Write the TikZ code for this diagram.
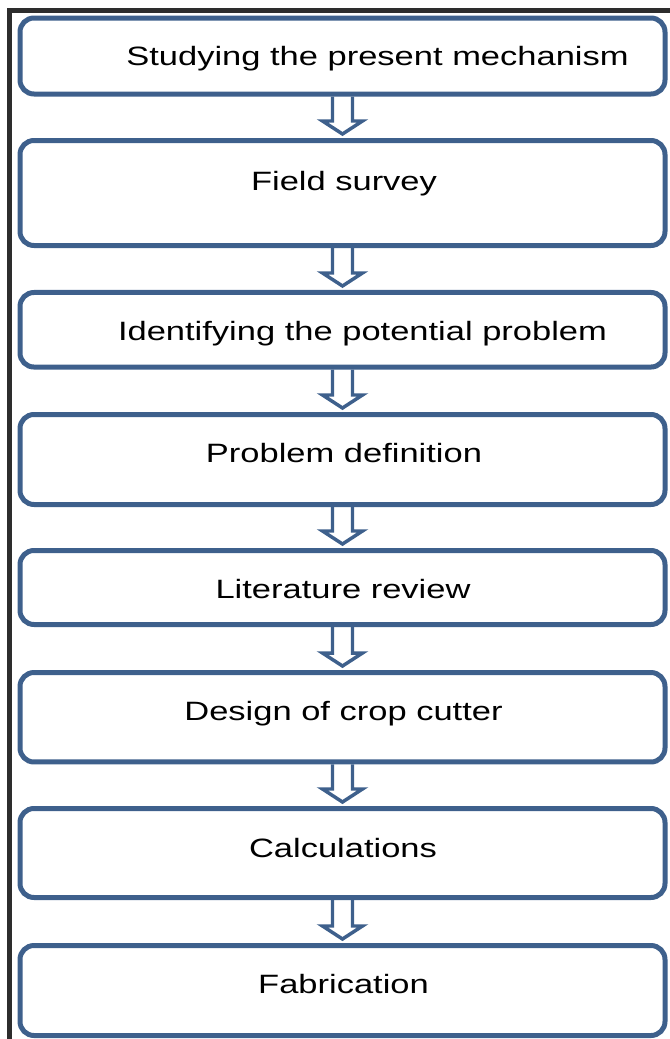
\documentclass[tikz,border=0pt]{standalone}
\usepackage{fontspec}
\setmainfont{Liberation Sans}[FakeStretch=1.3]
\usetikzlibrary{calc,backgrounds}
\definecolor{boxblue}{RGB}{62,96,140}
\definecolor{framegray}{RGB}{45,45,45}
\begin{document}
\begin{tikzpicture}[x=0.75pt,y=-0.75pt,
  stepbox/.style={draw=boxblue, line width=3.75pt, rounded corners=10.5pt,
    rectangle, inner sep=0pt, minimum width=483.75pt},
  steptext/.style={anchor=base, inner sep=0pt, text=black,
    font=\fontsize{19.9}{24}\selectfont},
  blockarrow/.style={draw=boxblue, fill=white, line width=2.6pt, line join=miter},
  frameline/.style={draw=framegray, line width=3.75pt}]
\useasboundingbox (0,0) rectangle (670,1039);
% frame
\draw[frameline] (670,10.5) -- (9.5,10.5) -- (9.5,1039);
% boxes
\node[stepbox, minimum height=57pt]    (b1) at (342.5,56)     {};
\node[stepbox, minimum height=78.75pt] (b2) at (342.5,193)    {};
\node[stepbox, minimum height=55.9pt]  (b3) at (342.5,329.75) {};
\node[stepbox, minimum height=67.5pt]  (b4) at (342.5,459.5)  {};
\node[stepbox, minimum height=55.5pt]  (b5) at (342.5,587.5)  {};
\node[stepbox, minimum height=67.1pt]  (b6) at (342.5,717.25) {};
\node[stepbox, minimum height=66.75pt] (b7) at (342.5,853)    {};
\node[stepbox, minimum height=67.5pt]  (b8) at (342.5,990.5)  {};
% texts
\node[steptext] (t1) at (377.5,65)  {Studying the present mechanism};
\node[steptext] (t2) at (344,190.5) {Field survey};
\node[steptext] (t3) at (362.5,340) {Identifying the potential problem};
\node[steptext] (t4) at (344,462)   {Problem definition};
\node[steptext] (t5) at (343,598)   {Literature review};
\node[steptext] (t6) at (343.5,720) {Design of crop cutter};
\node[steptext] (t7) at (343,857)   {Calculations};
\node[steptext] (t8) at (343.5,993) {Fabrication};
% arrows
\begin{scope}[on background layer]
\foreach \a/\b in {b1/b2,b2/b3,b3/b4,b4/b5,b5/b6,b6/b7,b7/b8}{
  \draw[blockarrow] ($(\a.south)+(-10,0)$) -- ($(\b.north)+(-10,-17)$)
    -- ($(\b.north)+(-20,-17)$) -- ($(\b.north)+(0,-4)$)
    -- ($(\b.north)+(20,-17)$) -- ($(\b.north)+(10,-17)$)
    -- ($(\a.south)+(10,0)$);
}
\end{scope}
\end{tikzpicture}
\end{document}
